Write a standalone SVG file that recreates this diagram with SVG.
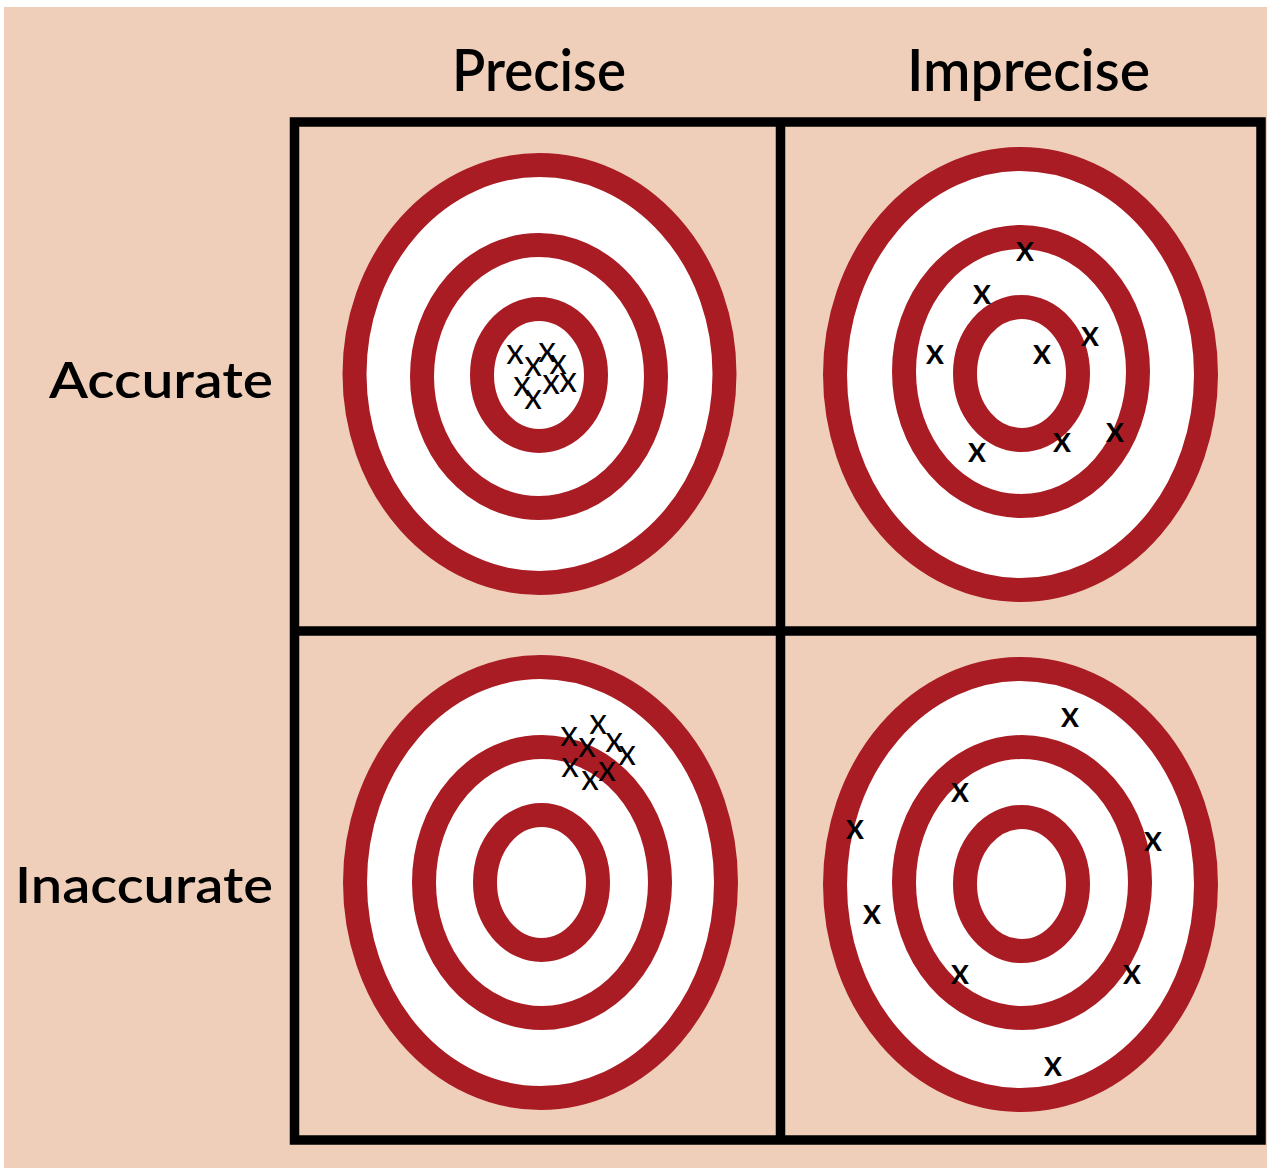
<svg xmlns="http://www.w3.org/2000/svg" width="1267" height="1168" viewBox="0 0 1267 1168">
  <style>
    .lbl { font-family: Lato, "Open Sans", "Liberation Sans", sans-serif; fill: #000; font-weight: 600; }
    .hdr { font-size: 58px; }
    .row { font-size: 49px; }
    .ring { fill: #ffffff; stroke: #AA1C24; stroke-width: 24; }
    .grid { fill: none; stroke: #000; stroke-width: 9.5; }
    .X { font-family: Lato, "Liberation Sans", sans-serif; font-size: 26px; font-weight: 600; text-anchor: middle; fill: #000; }
    .x { font-family: Lato, "Liberation Sans", sans-serif; font-size: 36px; font-weight: 600; text-anchor: middle; fill: #000; }
  </style>
  <rect x="0" y="0" width="1267" height="1168" fill="#ffffff"/>
  <rect x="4" y="7" width="1263" height="1161" fill="#EFCFBA"/>

  <g id="labels">
    <text id="lbl-precise" class="lbl hdr" x="452" y="91" textLength="174" lengthAdjust="spacingAndGlyphs">Precise</text>
    <text id="lbl-imprecise" class="lbl hdr" x="907" y="91" textLength="243" lengthAdjust="spacingAndGlyphs">Imprecise</text>
    <text id="lbl-accurate" class="lbl row" x="49" y="398" textLength="224" lengthAdjust="spacingAndGlyphs">Accurate</text>
    <text id="lbl-inaccurate" class="lbl row" x="15" y="903" textLength="258" lengthAdjust="spacingAndGlyphs">Inaccurate</text>
  </g>

  <g id="target-accurate-precise">
    <ellipse class="ring" cx="539.5" cy="374" rx="185" ry="209"/>
    <ellipse class="ring" cx="539" cy="376.5" rx="117" ry="131.5"/>
    <ellipse class="ring" cx="539" cy="375" rx="57" ry="66"/>
    <text class="X" x="515" y="364">X</text>
    <text class="X" x="533" y="376">X</text>
    <text class="X" x="547" y="362">X</text>
    <text class="X" x="558" y="374">X</text>
    <text class="X" x="522" y="396">X</text>
    <text class="X" x="533" y="409">X</text>
    <text class="X" x="551" y="394">X</text>
    <text class="X" x="568" y="392">X</text>
  </g>

  <g id="target-accurate-imprecise">
    <ellipse class="ring" cx="1020.5" cy="374.5" rx="185.5" ry="215.5"/>
    <ellipse class="ring" cx="1021" cy="371.5" rx="117" ry="134.5"/>
    <ellipse class="ring" cx="1021.5" cy="373.5" rx="56.5" ry="66.5"/>
    <text class="x" x="1025" y="261">x</text>
    <text class="x" x="982" y="304">x</text>
    <text class="x" x="935" y="364">x</text>
    <text class="x" x="1042" y="364">x</text>
    <text class="x" x="1090" y="346">x</text>
    <text class="x" x="977" y="462">x</text>
    <text class="x" x="1062" y="452">x</text>
    <text class="x" x="1115" y="442">x</text>
  </g>

  <g id="target-inaccurate-precise">
    <ellipse class="ring" cx="540.5" cy="882.5" rx="185.5" ry="215.5"/>
    <ellipse class="ring" cx="542" cy="882.5" rx="118" ry="135.5"/>
    <ellipse class="ring" cx="541.5" cy="882.5" rx="56.5" ry="67.5"/>
    <text class="X" x="598" y="734">X</text>
    <text class="X" x="569" y="746">X</text>
    <text class="X" x="587" y="757">X</text>
    <text class="X" x="614" y="752">X</text>
    <text class="X" x="627" y="765">X</text>
    <text class="X" x="570" y="777">X</text>
    <text class="X" x="590" y="790">X</text>
    <text class="X" x="607" y="781">X</text>
  </g>

  <g id="target-inaccurate-imprecise">
    <ellipse class="ring" cx="1020.5" cy="884.5" rx="185.5" ry="215.5"/>
    <ellipse class="ring" cx="1022" cy="882.5" rx="118" ry="135.5"/>
    <ellipse class="ring" cx="1021.5" cy="884" rx="56.5" ry="67"/>
    <text class="x" x="1070" y="727">x</text>
    <text class="x" x="960" y="802">x</text>
    <text class="x" x="855" y="839">x</text>
    <text class="x" x="1153" y="851">x</text>
    <text class="x" x="872" y="924">x</text>
    <text class="x" x="960" y="984">x</text>
    <text class="x" x="1132" y="984">x</text>
    <text class="x" x="1053" y="1076">x</text>
  </g>

  <g id="grid-lines">
    <rect class="grid" x="294.5" y="122" width="966.5" height="1018"/>
    <line class="grid" x1="780.5" y1="122" x2="780.5" y2="1140"/>
    <line class="grid" x1="294.5" y1="631" x2="1261" y2="631"/>
  </g>
</svg>
